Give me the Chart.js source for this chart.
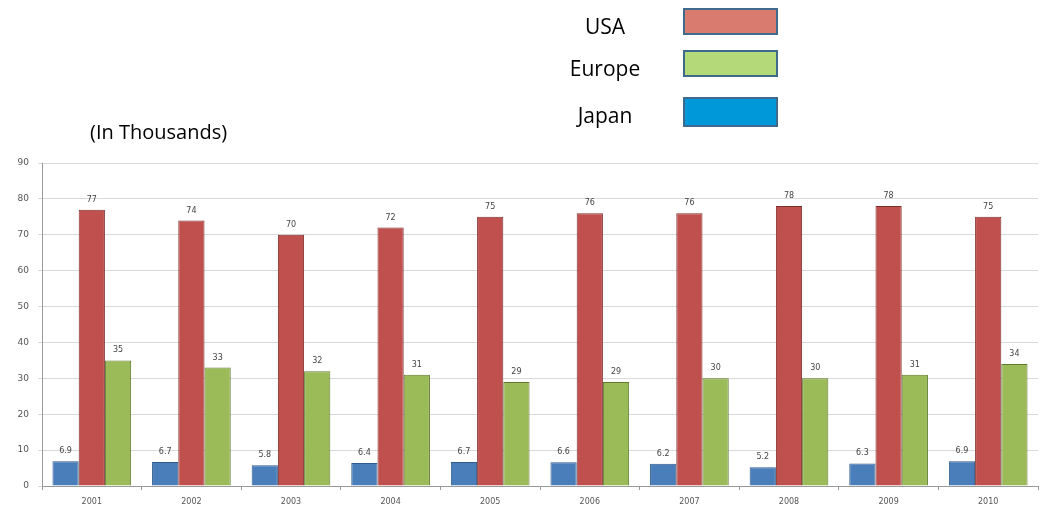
<!DOCTYPE html>
<html>
<head>
<meta charset="utf-8">
<script src="https://cdn.jsdelivr.net/npm/chart.js@4/dist/chart.umd.min.js"></script>
<style>
  html, body { margin: 0; padding: 0; background: #fff; }
  #wrap { position: relative; width: 1042px; height: 510px; }
  #c { position: absolute; left: 0; top: 0; }
  .lbl { position: absolute; font-family: "Open Sans", "Liberation Sans", sans-serif; font-size: 20px; color: #000; }
  .box { position: absolute; width: 95px; height: 27px; border: 2px solid #3e6a8e; box-sizing: border-box; }
</style>
</head>
<body>
<div id="wrap">
  <canvas id="c" width="1042" height="510"></canvas>
  <div class="lbl" style="left:90px; top:118px;">(In Thousands)</div>
  <div id="legend"></div>
</div>
<script>
const categories = ["2001","2002","2003","2004","2005","2006","2007","2008","2009","2010"];
const japan  = [6.9, 6.7, 5.8, 6.4, 6.7, 6.6, 6.2, 5.2, 6.3, 6.9];
const usa    = [77, 74, 70, 72, 75, 76, 76, 78, 78, 75];
const europe = [35, 33, 32, 31, 29, 29, 30, 30, 31, 34];
const yTicks = [0, 10, 20, 30, 40, 50, 60, 70, 80, 90];

const legendItems = [
  { name: "USA",    color: "#d97b6f", top: 8 },
  { name: "Europe", color: "#b3d978", top: 50 },
  { name: "Japan",  color: "#0098d8", top: 97 }
];
const legendEl = document.getElementById('legend');
legendItems.forEach(it => {
  const t = document.createElement('div');
  t.className = 'lbl';
  t.textContent = it.name;
  t.style.top = (it.top + 4) + 'px';
  t.style.left = '560px';
  t.style.width = '90px';
  t.style.textAlign = 'center';
  t.style.fontSize = '21px';
  legendEl.appendChild(t);
  const b = document.createElement('div');
  b.className = 'box';
  b.style.left = '683px';
  b.style.top = it.top + 'px';
  b.style.background = it.color;
  if (it.name === 'Japan') { b.style.height = '30px'; }
  legendEl.appendChild(b);
});

const labelPlugin = {
  id: 'barLabels',
  afterDatasetsDraw(chart) {
    const ctx = chart.ctx;
    ctx.save();
    ctx.font = '8px "DejaVu Sans", sans-serif';
    ctx.fillStyle = '#444';
    ctx.textAlign = 'center';
    ctx.textBaseline = 'bottom';
    chart.data.datasets.forEach((ds, di) => {
      const meta = chart.getDatasetMeta(di);
      meta.data.forEach((bar, i) => {
        ctx.fillText(String(ds.data[i]), bar.x, bar.y - 6);
      });
    });
    ctx.restore();
  }
};

new Chart(document.getElementById('c'), {
  type: 'bar',
  data: {
    labels: categories,
    datasets: [
      { label: 'Japan',  data: japan,  backgroundColor: '#4a7ebb', borderColor: '#2f5a8c', borderWidth: 1 },
      { label: 'USA',    data: usa,    backgroundColor: '#c0504d', borderColor: '#7d2f2d', borderWidth: 1 },
      { label: 'Europe', data: europe, backgroundColor: '#9bbb59', borderColor: '#5f7a2e', borderWidth: 1 }
    ]
  },
  options: {
    responsive: false,
    animation: false,
    layout: { padding: { top: 163, right: 4, left: 0, bottom: 0 } },
    plugins: { legend: { display: false }, tooltip: { enabled: false } },
    datasets: { bar: { categoryPercentage: 0.79, barPercentage: 1.0 } },
    scales: {
      x: {
        grid: { display: true, drawOnChartArea: false, drawTicks: true, tickLength: 4, color: '#999', offset: true },
        border: { display: true, color: '#999' },
        ticks: { color: '#555', font: { size: 8, family: 'DejaVu Sans' }, padding: 7 },
        afterFit(s) { s.height = 24; }
      },
      y: {
        min: 0, max: 90,
        afterBuildTicks(s) { s.ticks = yTicks.map(v => ({ value: v })); },
        grid: { color: '#d9d9d9', drawTicks: true, tickLength: 4, lineWidth: 1 },
        border: { display: true, color: '#999' },
        ticks: { color: '#555', font: { size: 9, family: 'DejaVu Sans' }, padding: 9 },
        afterFit(s) { s.width = 42; }
      }
    }
  },
  plugins: [labelPlugin]
});
</script>
</body>
</html>
